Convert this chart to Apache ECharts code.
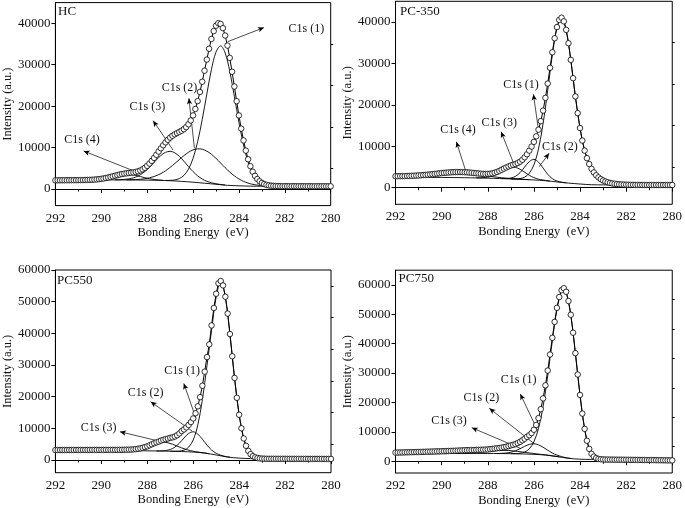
<!DOCTYPE html>
<html><head><meta charset="utf-8">
<script src="https://cdn.jsdelivr.net/npm/echarts@6/dist/echarts.min.js"></script>
<style>html,body{margin:0;padding:0;background:#fff}#c{width:685px;height:508px}</style>
</head><body><div id="c"></div>
<script>
// ---------- DATA ----------
const energy = [292,291.9,291.8,291.7,291.6,291.5,291.4,291.3,291.2,291.1,291,290.9,290.8,290.7,290.6,290.5,290.4,290.3,290.2,290.1,290,289.9,289.8,289.7,289.6,289.5,289.4,289.3,289.2,289.1,289,288.9,288.8,288.7,288.6,288.5,288.4,288.3,288.2,288.1,288,287.9,287.8,287.7,287.6,287.5,287.4,287.3,287.2,287.1,287,286.9,286.8,286.7,286.6,286.5,286.4,286.3,286.2,286.1,286,285.9,285.8,285.7,285.6,285.5,285.4,285.3,285.2,285.1,285,284.9,284.8,284.7,284.6,284.5,284.4,284.3,284.2,284.1,284,283.9,283.8,283.7,283.6,283.5,283.4,283.3,283.2,283.1,283,282.9,282.8,282.7,282.6,282.5,282.4,282.3,282.2,282.1,282,281.9,281.8,281.7,281.6,281.5,281.4,281.3,281.2,281.1,281,280.9,280.8,280.7,280.6,280.5,280.4,280.3,280.2,280.1,280];

const hcData = [2100,2105,2110,2115,2120,2125,2130,2135,2140,2145,2150,
2157,2165,2180,2195,2215,2242,2277,2325,2385,2460,
2551,2657,2778,2915,3062,3215,3359,3495,3619,3720,
3803,3870,3936,4013,4115,4265,4475,4765,5130,5595,
6160,6805,7515,8270,9054,9830,10575,11265,11887,12414,
12845,13200,13504,13793,14085,14445,14945,15630,16550,17765,
19325,21220,23425,25905,28565,31240,33860,36220,38115,39410,
40030,39840,38842,37050,34622,31660,28310,24750,21215,17770,
14585,11740,9270,7195,5510,4190,3175,2418,1865,1468,
1193,1011,888,806,755,724,702,688,680,676,
675,674,673,672,671,670,669,668,667,666,
665,664,663,662,661,660,658,656,654,652];
const hcBg = [[290,2200],[289,2200],[288,2150],[287.5,2100],[287,2000],[286.5,1850],[286,1650],[285.5,1400],[285,1150],[284.5,900],[284,780],[283.5,700],[283,680],[282.4,674]];
const hcC1 = [[287.2,2070],[287,2090],[286.8,2195],[286.6,2523],[286.4,3280],[286.2,4790],[286,7410],[285.8,11430],[285.6,16790],[285.4,22920],[285.2,28820],[285,33040],[284.8,34550],[284.6,32840],[284.4,28445],[284.2,22395],[284,16120],[283.8,10630],[283.6,6480],[283.4,3755],[283.2,2158],[283,1323],[282.8,933],[282.6,766],[282.4,704]];
const hcC2 = [[288.9,2223],[288.7,2241],[288.5,2280],[288.3,2360],[288.1,2490],[287.9,2700],[287.7,3015],[287.5,3460],[287.3,4045],[287.1,4790],[286.9,5660],[286.7,6620],[286.5,7600],[286.3,8485],[286.1,9190],[285.9,9620],[285.7,9700],[285.5,9420],[285.3,8800],[285.1,7915],[284.9,6850],[284.7,5710],[284.5,4590],[284.3,3620],[284.1,2785],[283.9,2125],[283.7,1630],[283.5,1260],[283.3,1025],[283.1,880],[282.9,784],[282.7,733],[282.5,703]];
const hcC3 = [[289.4,2220],[289.2,2250],[289,2320],[288.8,2450],[288.6,2700],[288.4,3130],[288.2,3795],[288,4705],[287.8,5830],[287.6,7025],[287.4,8110],[287.2,8855],[287,9100],[286.8,8755],[286.6,7910],[286.4,6725],[286.2,5430],[286,4205],[285.8,3185],[285.6,2410],[285.4,1870],[285.2,1510],[285,1270],[284.8,1100],[284.6,970]];
const hcC4 = [[290.3,2277],[290.1,2385],[289.9,2550],[289.7,2775],[289.5,3050],[289.3,3320],[289.1,3525],[288.9,3595],[288.7,3510],[288.5,3295],[288.3,3015],[288.1,2730],[287.9,2490],[287.7,2310],[287.5,2192],[287.3,2100]];

const pc350Data = [2772,2779,2787,2798,2812,2828,2848,2871,2899,2930,2968,
3008,3052,3102,3155,3213,3274,3337,3402,3466,3529,
3585,3637,3682,3721,3752,3772,3783,3782,3771,3749,
3714,3668,3615,3558,3498,3437,3384,3345,3327,3344,
3381,3469,3613,3810,4056,4330,4611,4887,5136,5350,
5536,5720,5951,6287,6744,7346,8074,8948,9938,11061,
12398,14012,16071,18620,21695,25151,28946,32687,36074,38778,
40507,41042,40157,38107,34875,30856,26442,22028,18014,14400,
11384,8968,7142,5716,4570,3694,3008,2492,2086,1760,
1518,1321,1164,1042,950,878,826,794,752,730,
714,700,689,681,675,670,668,666,664,662,
661,660,659,658,657,656,655,654,653,652];
const pc350Bg = [[292,2500],[291,2500],[290,2480],[289,2420],[288.5,2370],[288,2300],[287.5,2220],[287,2120],[286.5,2010],[286,1880],[285.5,1700],[285,1400],[284.5,1120],[284,900],[283.5,720],[283,690],[282.5,680],[282.3,676]];
const pc350C1 = [[287,2132],[286.8,2128],[286.6,2219],[286.4,2559],[286.2,3482],[286,5530],[285.8,9388],[285.6,15516],[285.4,23510],[285.2,32010],[285,38560],[284.8,40988],[284.6,38096],[284.4,30856],[284.2,22028],[284,14400],[283.8,8968],[283.6,5716],[283.4,3694],[283.2,2492],[283,1760],[282.8,1321],[282.6,1042],[282.4,878]];
const pc350C2 = [[287.4,2211],[287.2,2214],[287,2338],[286.8,2744],[286.6,3641],[286.4,4989],[286.2,6298],[286,6830],[285.8,6174],[285.6,4741],[285.4,3249],[285.2,2188],[285,1618],[284.8,1342],[284.6,1187]];
const pc350C3 = [[288.5,2387],[288.3,2400],[288.1,2476],[287.9,2676],[287.7,3058],[287.5,3632],[287.3,4285],[287.1,4817],[286.9,4998],[286.7,4731],[286.5,4115],[286.3,3370],[286.1,2712],[285.9,2236],[285.7,1934],[285.5,1758],[285.3,1597]];
const pc350C4 = [[292,2522],[291.8,2537],[291.6,2562],[291.4,2598],[291.2,2649],[291,2718],[290.8,2802],[290.6,2905],[290.4,3024],[290.2,3152],[290,3279],[289.8,3387],[289.6,3471],[289.4,3522],[289.2,3532],[289,3498],[288.8,3415],[288.6,3299],[288.4,3155],[288.2,2996],[288,2836],[287.8,2681],[287.6,2542],[287.4,2418],[287.2,2309],[287,2218],[286.8,2138],[286.6,2069],[286.4,2006],[286.2,1944]];

const pc550Data = [3150,3152,3155,3157,3160,3162,3165,3167,3170,3172,3175,
3177,3180,3182,3185,3187,3190,3192,3195,3197,3200,
3200,3200,3201,3202,3203,3205,3211,3219,3231,3250,
3256,3273,3310,3369,3453,3561,3702,3880,4086,4317,
4650,4982,5298,5582,5824,6128,6381,6592,6785,7002,
7164,7433,7837,8407,9141,9652,10299,11073,11984,13119,
14775,16953,19855,23458,27901,32500,36500,42500,48000,52500,
55792,56523,55129,51571,46245,39782,32775,25930,19650,14300,
10030,6810,4490,2890,1850,1220,850,635,515,450,
418,396,394,392,390,388,386,384,382,380,
378,377,375,374,372,371,369,368,366,365,
363,362,360,359,357,356,354,353,351,350];
const pc550Bg = [[289.2,2950],[288.6,2930],[288,2900],[287.5,2850],[287,2780],[286.5,2680],[286,2520],[285.5,2200],[285,1600],[284.5,950],[284,600],[283.5,450],[283,400]];
const pc550C1 = [[287,2788],[286.8,2775],[286.6,2840],[286.4,3128],[286.2,4054],[286,6350],[285.8,11032],[285.6,19094],[285.4,29800],[285.2,41000],[285,51500],[284.8,56340],[284.6,51520],[284.4,39770],[284.2,25930],[284,14300],[283.8,6810],[283.6,2890],[283.4,1220],[283.2,635],[283,450]];
const pc550C2 = [[287.6,2872],[287.4,2887],[287.2,2991],[287,3324],[286.8,4058],[286.6,5330],[286.4,6962],[286.2,8382],[286,8920],[285.8,8190],[285.6,6578],[285.4,4710],[285.2,3158],[285,2144],[284.8,1523],[284.6,1131],[284.4,892]];
const pc550C3 = [[289.1,2981],[288.9,3026],[288.7,3120],[288.5,3303],[288.3,3612],[288.1,4056],[287.9,4590],[287.7,5113],[287.5,5499],[287.3,5622],[287.1,5443],[286.9,5003],[286.7,4420],[286.5,3831],[286.3,3313],[286.1,2930],[285.9,2641],[285.7,2409],[285.5,2231],[285.3,1971]];

const pc750Data = [2930,2952,2974,2996,3018,3040,3062,3084,3106,3128,3150,
3175,3200,3225,3250,3276,3301,3326,3352,3378,3404,
3431,3458,3487,3518,3550,3581,3615,3653,3697,3746,
3753,3767,3790,3820,3858,3878,3904,3934,3968,4001,
4108,4212,4309,4401,4486,4641,4798,4967,5158,5399,
5590,5843,6177,6605,7124,7650,8303,8853,9582,10714,
12336,14672,17715,21380,25823,30848,36308,42000,47408,52184,
55862,58200,58868,57662,54520,49842,43731,36765,29510,22550,
16214,11018,6982,4206,2520,1592,1064,796,674,615,
572,564,556,548,540,532,524,516,508,500,
490,480,470,460,450,440,430,420,410,400,
388,376,364,352,340,328,316,304,292,280];
const pc750Bg = [[292,2500],[290,2600],[289,2650],[288,2650],[287.5,2620],[287,2570],[286.5,2480],[286,2350],[285.5,2100],[285,1600],[284.5,1000],[284,700],[283.5,620],[283,580]];
const pc750C1 = [[287,2588],[286.8,2597],[286.6,2722],[286.4,3127],[286.2,4202],[286,6620],[285.8,11160],[285.6,18650],[285.4,29030],[285.2,40960],[285,51680],[284.8,57990],[284.7,58740],[284.6,57590],[284.4,49820],[284.2,36760],[284,22550],[283.8,11018],[283.6,4206],[283.4,1592],[283.2,796],[283,615]];
const pc750C2 = [[287.6,2648],[287.4,2682],[287.2,2792],[287,3056],[286.8,3535],[286.6,4251],[286.4,5068],[286.2,5725],[286,5950],[285.8,5573],[285.6,4764],[285.4,3753],[285.2,2801],[285,2086],[284.8,1562],[284.6,1192],[284.4,962]];
const pc750C3 = [[289.9,2611],[289.7,2627],[289.5,2650],[289.3,2683],[289.1,2733],[288.9,2799],[288.7,2888],[288.5,3008],[288.3,3154],[288.1,3318],[287.9,3474],[287.7,3602],[287.5,3686],[287.3,3700],[287.1,3646],[286.9,3522],[286.7,3346],[286.5,3148],[286.3,2932],[286.1,2734],[285.9,2538],[285.7,2349],[285.5,2188],[285.3,1948],[285.1,1725],[284.9,1492]];

// tick labels
const ticks45 = [0,10000,20000,30000,40000];
const minor45 = [5000,15000,25000,35000];
const ticks60 = [0,10000,20000,30000,40000,50000,60000];
const minor60 = [5000,15000,25000,35000,45000,55000];
const ticks65 = [0,10000,20000,30000,40000,50000,60000];
const minor65 = [5000,15000,25000,35000,45000,55000];

// annotations (text, label position, arrow tail, arrow head) in data units
const hcNotes = [
  ['C1s (1)', [281.06,38650], [284.49,35580], [282.91,38960]],
  ['C1s (2)', [286.59,24320], [285.94,9830], [286.18,21900]],
  ['C1s (3)', [287.99,19880], [286.87,9420], [287.74,16500]],
  ['C1s (4)', [290.84,11840], [288.39,3940], [290.77,9180]]
];
const pc350Notes = [
  ['C1s (1)', [286.56,24800], [285.8,13940], [286.02,22560]],
  ['C1s (2)', [284.87,9900], [285.77,5070], [285.34,8300]],
  ['C1s (3)', [287.5,15550], [286.85,5480], [287.42,13500]],
  ['C1s (4)', [289.29,13940], [288.93,3620], [289.36,11100]]
];
const pc550Notes = [
  ['C1s (1)', [286.48,28200], [285.88,13200], [286.41,24200]],
  ['C1s (2)', [288.07,21250], [286.05,9200], [287.85,18400]],
  ['C1s (3)', [290.12,10300], [287.39,5790], [289.19,8940]]
];
const pc750Notes = [
  ['C1s (1)', [286.66,27600], [285.84,10500], [286.59,22900]],
  ['C1s (2)', [288.28,21500], [285.99,6000], [287.93,18000]],
  ['C1s (3)', [289.68,13600], [286.56,4300], [288.69,11400]]
];

const panelNames = ['HC','PC-350','PC550','PC750'];

// ---------- LAYOUT / STYLE ----------
const FONT = 'Liberation Serif';
const layout = [
  {grid:{left:53.3, top:2.6, width:277.4, height:203}, y:[-4000,45000], ticks:ticks45, minor:minor45, nameXY:[58,12]},
  {grid:{left:395.5, top:1.3, width:278.5, height:203}, y:[-4000,45000], ticks:ticks45, minor:minor45, nameXY:[400,12]},
  {grid:{left:53.3, top:270, width:277.7, height:202.7}, y:[-4000,60000], ticks:ticks60, minor:minor60, nameXY:[57,281.5]},
  {grid:{left:395.5, top:270.2, width:278.5, height:204.3}, y:[-4000,65000], ticks:ticks65, minor:minor65, nameXY:[398.5,279]}
];
const panelData = [
  {data:hcData, comps:[hcBg,hcC1,hcC2,hcC3,hcC4], notes:hcNotes},
  {data:pc350Data, comps:[pc350Bg,pc350C1,pc350C2,pc350C3,pc350C4], notes:pc350Notes},
  {data:pc550Data, comps:[pc550Bg,pc550C1,pc550C2,pc550C3], notes:pc550Notes},
  {data:pc750Data, comps:[pc750Bg,pc750C1,pc750C2,pc750C3], notes:pc750Notes}
];

const grids = [], xAxes = [], yAxes = [], series = [], graphics = [];
layout.forEach((L, i) => {
  grids.push(Object.assign({show:true, borderColor:'#000', borderWidth:1, backgroundColor:'transparent', containLabel:false}, L.grid));
  xAxes.push({
    gridIndex:i, type:'value', min:280, max:292, interval:2, inverse:true,
    axisLine:{show:true, lineStyle:{color:'#000', width:1}},
    axisTick:{show:true, inside:false, length:4, lineStyle:{color:'#000'}},
    minorTick:{show:true, splitNumber:2, length:2.5, lineStyle:{color:'#000'}},
    splitLine:{show:false}, minorSplitLine:{show:false},
    axisLabel:{color:'#111', fontFamily:FONT, fontSize:13, margin:6},
    name:'Bonding Energy  (eV)', nameLocation:'middle', nameGap:21,
    nameTextStyle:{color:'#111', fontFamily:FONT, fontSize:12.5}
  });
  yAxes.push({
    gridIndex:i, type:'value', min:L.y[0], max:L.y[1],
    axisLine:{show:true, lineStyle:{color:'#000', width:1}},
    axisTick:{show:true, inside:false, length:4, customValues:L.ticks, lineStyle:{color:'#000'}},
    splitLine:{show:false},
    axisLabel:{color:'#111', fontFamily:FONT, fontSize:13, margin:5, customValues:L.ticks, formatter:v => String(v)},
    name:'Intensity (a.u.)', nameLocation:'middle', nameGap:39,
    nameTextStyle:{color:'#111', fontFamily:FONT, fontSize:12.5}
  });
  graphics.push({type:'text', left:L.nameXY[0], top:L.nameXY[1]-7, style:{text:panelNames[i], fill:'#111', font:'13px "Liberation Serif"'}});
});
layout.forEach((L, i) => {
  yAxes.push({
    gridIndex:i, type:'value', min:L.y[0], max:L.y[1],
    axisLine:{show:false}, splitLine:{show:false}, axisLabel:{show:false},
    axisTick:{show:true, inside:false, length:2.5, customValues:L.minor, lineStyle:{color:'#000'}}
  });
});

panelData.forEach((P, i) => {
  P.comps.forEach((c, k) => {
    const s = {
      type:'line', xAxisIndex:i, yAxisIndex:i, data:c, showSymbol:false, smooth:0.35,
      lineStyle:{color:'#000', width:0.9}, silent:true, z:2
    };
    if (k === 0) {
      s.markLine = {
        silent:true, symbol:['none','arrow'], symbolSize:[4,6], animation:false,
        lineStyle:{color:'#000', width:0.7, type:'solid'}, label:{show:false},
        emphasis:{disabled:true},
        data:P.notes.map(n => [{coord:n[2]}, {coord:n[3]}])
      };
      s.markPoint = {
        silent:true, symbol:'circle', symbolSize:0, animation:false,
        data:P.notes.map(n => ({coord:n[1], value:0,
          label:{show:true, position:'inside', formatter:n[0], color:'#111', fontFamily:FONT, fontSize:12}}))
      };
    }
    series.push(s);
  });
  series.push({
    type:'line', xAxisIndex:i, yAxisIndex:i,
    data:energy.map((e, j) => [e, P.data[j]]),
    symbol:'circle', symbolSize:5.5, showSymbol:true, showAllSymbol:true,
    itemStyle:{color:'#fff', borderColor:'#000', borderWidth:0.8},
    lineStyle:{color:'#000', width:1}, silent:true, z:5
  });
});

const chart = echarts.init(document.getElementById('c'), null, {renderer:'canvas'});
chart.setOption({
  animation:false, backgroundColor:'#fff',
  grid:grids, xAxis:xAxes, yAxis:yAxes, series:series, graphic:graphics
});
</script></body></html>
